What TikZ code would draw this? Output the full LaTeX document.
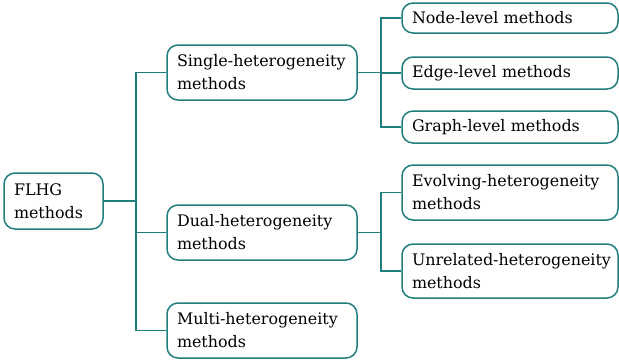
\documentclass[tikz,border=0pt]{standalone}
\usepackage{fontspec}
\setmainfont{DejaVu Serif}
\definecolor{lineteal}{RGB}{34,126,124}
\begin{document}
\begin{tikzpicture}
[x=1pt,y=-1pt,
 nodedecorate/.style={shape=rectangle,rounded corners=11pt,draw=lineteal,line width=1.5pt,
   inner xsep=10pt,inner ysep=2pt,align=left,font=\fontsize{15.9}{23}\selectfont},%
 linedecorate/.style={-,draw=lineteal,line width=1.5pt}]
\useasboundingbox (0,0) rectangle (619,362);
%% nodes or vertices
\foreach \nodename/\x/\y/\w/\h/\label in {
  FLHG/53.5/201/99/56/{FLHG\\methods},
  Single/262/72.5/190/55/{Single-heterogeneity\\methods},
  Dual/262/232.5/190/55/{Dual-heterogeneity\\methods},
  Multi/262/330.5/190/55/{Multi-heterogeneity\\methods},
  NodeLevel/510/18/216/30/{Node-level methods},
  EdgeLevel/510/73/216/32/{Edge-level methods},
  GraphLevel/510/127/216/32/{Graph-level methods},
  Evolving/510/192.5/216/55/{Evolving-heterogeneity\\methods},
  Unrelated/510/271/216/54/{\mbox{Unrelated-heterogeneity}\\methods}} {
  \pgfmathsetmacro\tw{\w-20}
  \node (\nodename) at (\x,\y) [nodedecorate,minimum width=\w pt,minimum height=\h pt,text width=\tw pt] {\label};
}
%% edges or lines
\draw[linedecorate]
\foreach \startnode/\endnode/\elbow in {FLHG/Single/32, FLHG/Dual/32, FLHG/Multi/32,
  Single/NodeLevel/23, Single/EdgeLevel/23, Single/GraphLevel/23,
  Dual/Evolving/23, Dual/Unrelated/23} {
  (\startnode.east) -- ++(\elbow,0) |- (\endnode.west)
};
\end{tikzpicture}
\end{document}
